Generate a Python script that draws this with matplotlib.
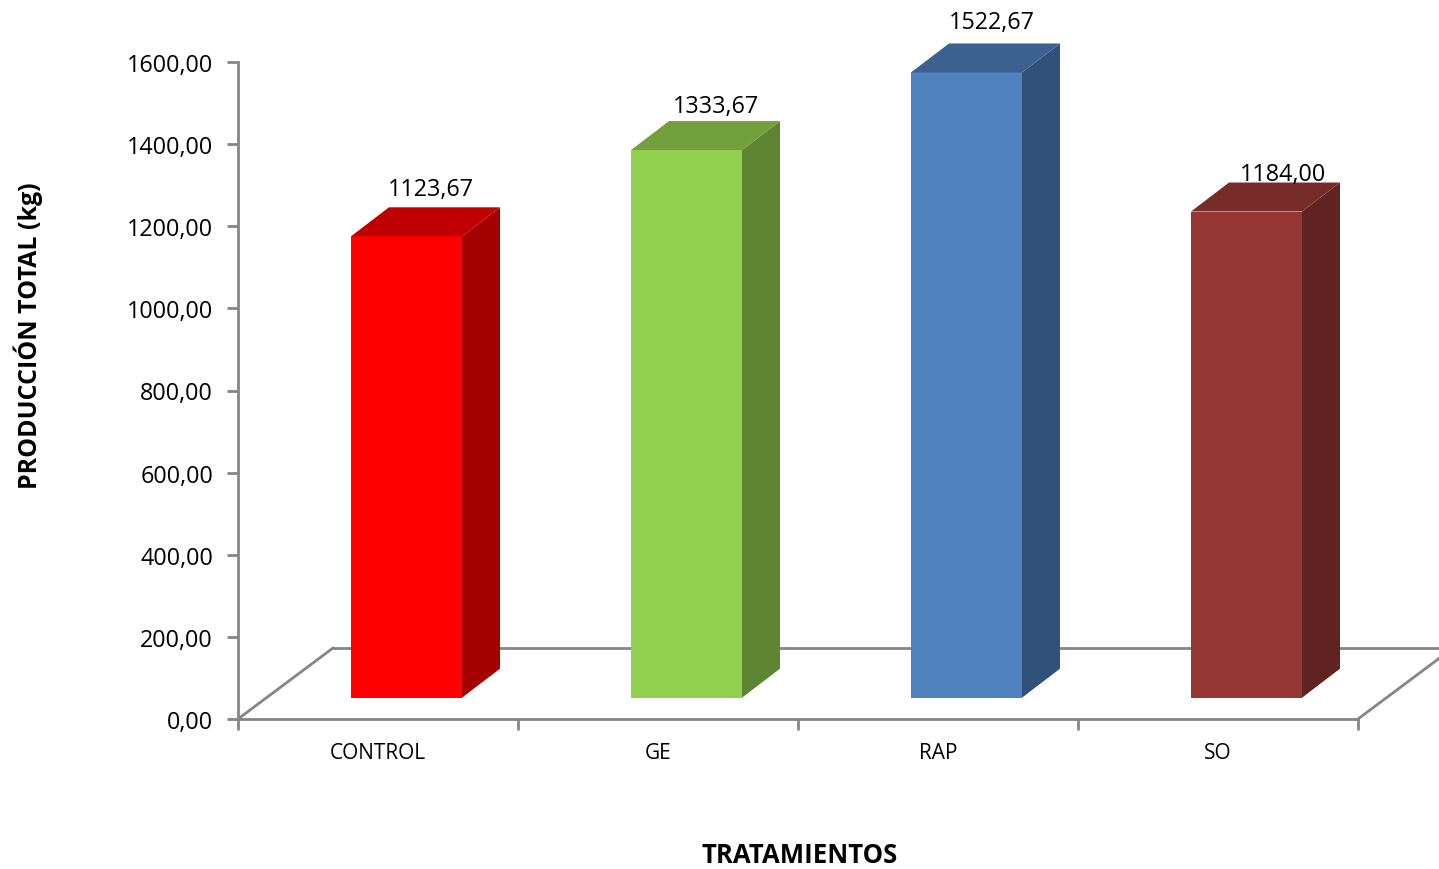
import matplotlib
matplotlib.use("Agg")
import matplotlib.pyplot as plt
from matplotlib.patches import Polygon

plt.rcParams['font.family'] = ['Open Sans', 'DejaVu Sans']

categories = ["CONTROL", "GE", "RAP", "SO"]
values = [1123.67, 1333.67, 1522.67, 1184.00]
front_colors = ["#FF0000", "#92D050", "#4F81BD", "#953735"]
top_colors = ["#C00000", "#71A03C", "#3C6190", "#772C2A"]
side_colors = ["#A50000", "#5E8532", "#30517A", "#602322"]
y_ticks = [0, 200, 400, 600, 800, 1000, 1200, 1400, 1600]

# data-label nudges in pixels (dx, dy above the bar cap)
label_nudge = [(5, 18), (10, 15), (6, 21), (18, 9)]

W, H = 1439, 870
fig = plt.figure(figsize=(W / 100, H / 100), dpi=100)
x0, x1, y0, y1 = 238, 1358, 720, 63
ax = fig.add_axes([x0 / W, 1 - y0 / H, (x1 - x0) / W, (y0 - y1) / H])
ax.set_xlim(0, len(categories))
ax.set_ylim(0, 1600)

# pixel -> data scale
PX = (x1 - x0) / len(categories)
PY = (y0 - y1) / 1600.0

# floor depth (pixels)
FDX, FDY = 95, 71
grey = "#868686"

# floor outline
fdx, fdy = FDX / PX, FDY / PY
n = len(categories)
ax.plot([0, fdx], [0, fdy], color=grey, lw=2, clip_on=False, zorder=1)
ax.plot([fdx, n + fdx], [fdy, fdy], color=grey, lw=2, clip_on=False, zorder=1)
ax.plot([n, n + fdx], [0, fdy], color=grey, lw=2, clip_on=False, zorder=1)
ax.plot([0, n], [0, 0], color=grey, lw=2, clip_on=False, zorder=2)

# bars sit at 30%..70% of the floor depth
d0 = 0.30
bdx_px, bdy_px = 38, 29
bar_w = 111 / PX
sx, sy = d0 * FDX / PX, d0 * FDY / PY
bdx, bdy = bdx_px / PX, bdy_px / PY

for i, (v, fc, tc, sc) in enumerate(zip(values, front_colors, top_colors, side_colors)):
    left = i + (1 - bar_w) / 2 + sx
    right = left + bar_w
    bottom = sy
    top = sy + v
    front = Polygon([(left, bottom), (right, bottom), (right, top), (left, top)],
                    closed=True, facecolor=fc, edgecolor="none", clip_on=False, zorder=3)
    side = Polygon([(right, bottom), (right + bdx, bottom + bdy), (right + bdx, top + bdy), (right, top)],
                   closed=True, facecolor=sc, edgecolor="none", clip_on=False, zorder=3)
    cap = Polygon([(left, top), (right, top), (right + bdx, top + bdy), (left + bdx, top + bdy)],
                  closed=True, facecolor=tc, edgecolor="none", clip_on=False, zorder=3)
    for p in (front, side, cap):
        ax.add_patch(p)
    ndx, ndy = label_nudge[i]
    lx = (left + right + bdx) / 2 + ndx / PX
    ly = top + bdy + ndy / PY
    ax.text(lx, ly, f"{v:.2f}".replace(".", ","), ha="center", va="center",
            fontsize=16.8, color="black", clip_on=False, zorder=4)

# category labels
for i, c in enumerate(categories):
    ax.text(i + 0.5, -34 / PY, c, ha="center", va="center", fontsize=15,
            color="black", clip_on=False)

# axes styling
for s in ("top", "right", "bottom"):
    ax.spines[s].set_visible(False)
ax.spines["left"].set_color(grey)
ax.spines["left"].set_linewidth(2)
ax.set_yticks(y_ticks)
ax.set_yticklabels([f"{t:.2f}".replace(".", ",") for t in y_ticks], fontsize=16.8)
ax.tick_params(axis="y", direction="out", length=8, width=2, color=grey, pad=10)
ax.set_xticks(range(n + 1))
ax.set_xticklabels([])
ax.tick_params(axis="x", direction="out", length=8, width=2, color=grey)
ax.patch.set_visible(False)

fig.text(800 / W, 1 - 856 / H, "TRATAMIENTOS", ha="center", va="center",
         fontsize=18.5, fontweight="bold")
fig.text(28 / W, 1 - 336 / H, "PRODUCCIÓN TOTAL (kg)", ha="center", va="center",
         rotation=90, fontsize=18, fontweight="bold")

fig.savefig("out.png", dpi=100)
